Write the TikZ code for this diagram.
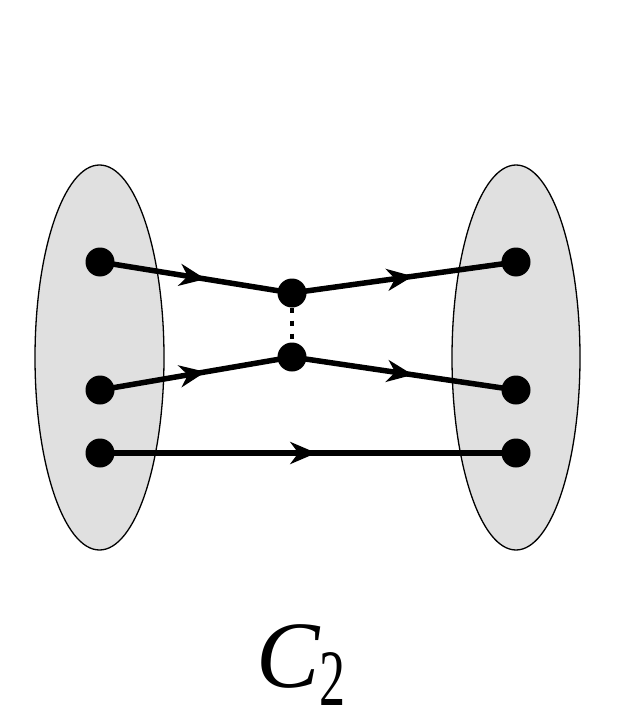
\documentclass[tikz,border=0pt]{standalone}
\usepackage{fontspec}
\setmainfont{Liberation Serif}
\usetikzlibrary{arrows.meta,decorations.markings}
\definecolor{setgray}{gray}{0.88}
\tikzset{
  dot/.style={circle, fill=black, inner sep=0pt, minimum size=29pt},
  setbox/.style={draw=black, line width=1.3pt, fill=setgray},
  flow/.style={line width=5.5pt, postaction={decorate}, decoration={markings,
    mark=at position #1 with {\arrow{Stealth[length=26pt,width=22pt,inset=8pt]}}}},
  flow/.default=0.55
}

\begin{document}
\begin{tikzpicture}[x=1pt, y=-1pt]
			%%%%% START %%%%%
			\useasboundingbox (0, 0) rectangle (625, 719);

			\draw[setbox] (99.5, 357.5) ellipse (64.5 and 192.5);
			\draw[setbox] (516, 357.5) ellipse (64 and 192.5);

			\node[dot] (l1) at (100, 262) {};
			\node[dot] (l2) at (100, 390) {};
			\node[dot] (l3) at (100, 453) {};

			\node[dot] (m1) at (292, 293) {};
			\node[dot] (m2) at (292, 357) {};

			\node[dot] (r1) at (516, 262) {};
			\node[dot] (r2) at (516, 390) {};
			\node[dot] (r3) at (516, 453) {};

			\draw[flow=0.55] (l1.center) -- (m1.center);
			\draw[flow=0.54] (m1.center) -- (r1.center);
			\draw[flow=0.55] (l2.center) -- (m2.center);
			\draw[flow=0.54] (m2.center) -- (r2.center);
			\draw[flow=0.52] (l3.center) -- (r3.center);

			\draw[line width=4pt, dash pattern=on 5pt off 8pt] (m1.south) -- (m2.north);

			\node[anchor=base west, inner sep=0pt] (lbl) at (256, 687)
			  {{\fontsize{95}{95}\selectfont\itshape C}\raisebox{-18pt}{\fontsize{80}{80}\selectfont\scalebox{0.65}[1]{2}}};
			%%%%% END %%%%%
		\end{tikzpicture}
\end{document}
